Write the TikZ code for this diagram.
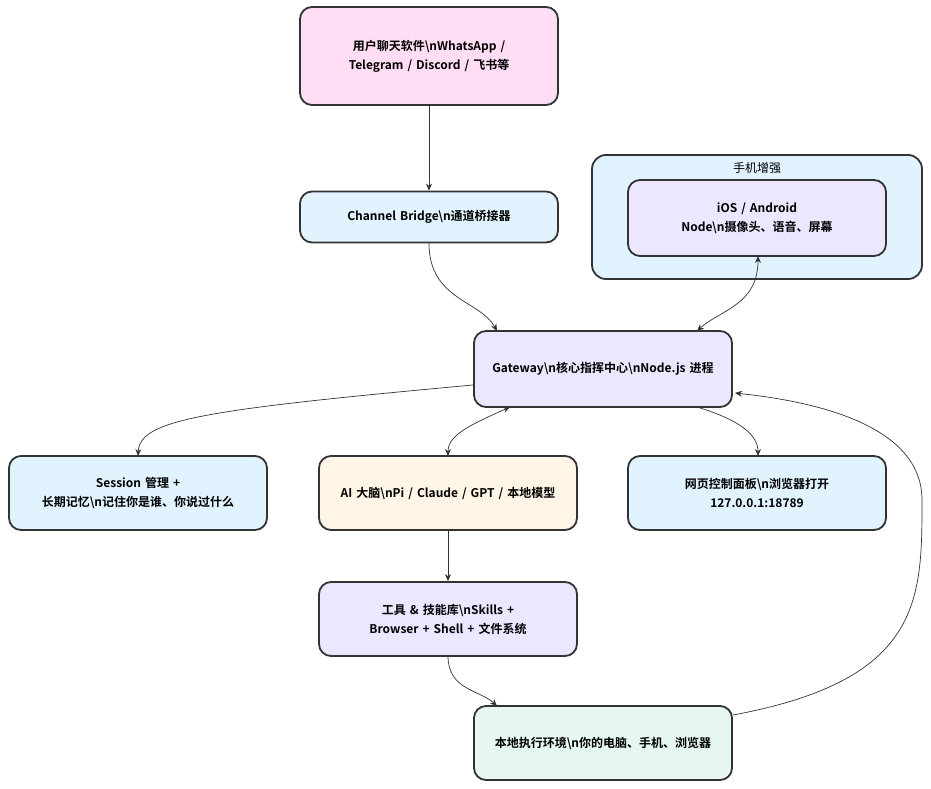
\documentclass[tikz,border=0pt]{standalone}
\usepackage{fontspec}
\setmainfont{Noto Sans CJK SC}[BoldFont={* Bold}]
\usetikzlibrary{arrows.meta}
\newcommand{\bsn}{\textbackslash n}
\definecolor{cpink}{HTML}{FFDDF4}
\definecolor{cblue}{HTML}{E1F3FE}
\definecolor{clav}{HTML}{ECE6FF}
\definecolor{ccream}{HTML}{FFF5E6}
\definecolor{cmint}{HTML}{E6F7EF}
\definecolor{cline}{HTML}{333333}
\tikzset{
 box/.style={draw=cline,line width=1.8pt,rounded corners=12pt,minimum width=258pt,minimum height=74pt,align=center,font=\bfseries\fontsize{12}{19}\selectfont,text width=230pt},
 conn/.style={draw=cline,line width=0.7pt,-{Stealth[length=7pt,width=6pt]}},
 bconn/.style={draw=cline,line width=0.7pt,{Stealth[length=7pt,width=6pt]}-{Stealth[length=7pt,width=6pt]}},
}
\begin{document}
\begin{tikzpicture}[x=1pt,y=-1pt]
\useasboundingbox (0,0) rectangle (931,789);
\draw[draw=cline,fill=cblue,line width=1.8pt,rounded corners=14pt] (592,155) rectangle (922,279);
\node[font=\fontsize{12}{14}\selectfont] (cl) at (757,168) {手机增强};
\node[box,fill=cpink,minimum height=98pt] (u) at (429,56) {用户聊天软件\bsn WhatsApp / Telegram / Discord / 飞书等};
\node[box,fill=cblue,minimum height=51pt] (cb) at (429,217) {Channel Bridge\bsn 通道桥接器};
\node[box,fill=clav,minimum height=76pt] (ios) at (757,218) {iOS / Android Node\bsn 摄像头、语音、屏幕};
\node[box,fill=clav,minimum height=76pt] (g) at (603,369) {Gateway\bsn 核心指挥中心\bsn Node.js 进程};
\node[box,fill=cblue] (s) at (138,493) {Session 管理 + 长期记忆\bsn 记住你是谁、你说过什么};
\node[box,fill=ccream] (ai) at (448,493) {AI 大脑\bsn Pi / Claude / GPT / 本地模型};
\node[box,fill=cblue] (w) at (757,493) {网页控制面板\bsn 浏览器打开 127.0.0.1:18789};
\node[box,fill=clav] (t) at (448,619) {工具 \& 技能库\bsn Skills + Browser + Shell + 文件系统};
\node[box,fill=cmint] (l) at (603,743) {本地执行环境\bsn 你的电脑、手机、浏览器};
\draw[conn] (u.south) -- (cb.north);
\draw[conn] (429,243) .. controls (429,300) and (480,300) .. (497,331);
\draw[bconn] (758,256) .. controls (758,305) and (720,310) .. (697,331);
\draw[conn] (473,385) .. controls (200,410) and (140,420) .. (138,456);
\draw[bconn] (510,407) .. controls (470,425) and (448,435) .. (448,456);
\draw[conn] (697,407) .. controls (740,420) and (758,435) .. (758,456);
\draw[conn] (ai.south) -- (t.north);
\draw[conn] (448,656) .. controls (448,690) and (480,690) .. (497,706);
\draw[conn] (733,715) .. controls (922,680) and (922,600) .. (922,500) .. controls (922,420) and (800,400) .. (735,393);
\end{tikzpicture}
\end{document}
